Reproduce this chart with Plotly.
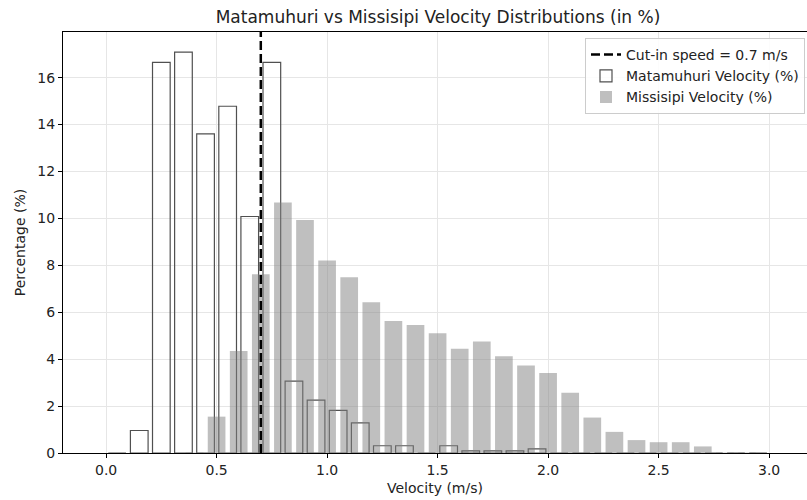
import plotly.graph_objects as go

# ---- data ----
mat_centers = [round(0.05 + 0.1 * i, 2) for i in range(30)]
mat_values = [0.0, 0.96, 16.65, 17.09, 13.60, 14.78, 10.08, 16.65, 3.06, 2.25,
              1.82, 1.28, 0.31, 0.31, 0.0, 0.31, 0.09, 0.09, 0.09, 0.18,
              0.0, 0.0, 0.0, 0.0, 0.0, 0.0, 0.0, 0.0, 0.0, 0.0]

mis_centers = [round(0.1 * i, 2) for i in range(31)]
mis_values = [0.0, 0.0, 0.0, 0.0, 0.02, 1.55, 4.35, 7.62, 10.68, 9.93,
              8.20, 7.49, 6.43, 5.63, 5.46, 5.10, 4.44, 4.75, 4.12, 3.73,
              3.41, 2.57, 1.51, 0.90, 0.55, 0.46, 0.46, 0.28, 0.02, 0.02, 0.0]

cut_in = 0.7
x_ticks = [0.0, 0.5, 1.0, 1.5, 2.0, 2.5, 3.0]
y_ticks = [0, 2, 4, 6, 8, 10, 12, 14, 16]

BAR_W = 0.08
Y_MAX = max(mat_values) * 1.05
FONT = "DejaVu Sans"

fig = go.Figure()

fig.add_trace(go.Scatter(
    x=[cut_in, cut_in], y=[0, Y_MAX], mode="lines",
    line=dict(color="black", width=2.5, dash="9px,4px"),
    name=f"Cut-in speed = {cut_in} m/s",
))

fig.add_trace(go.Bar(
    x=mat_centers, y=mat_values, width=BAR_W,
    marker=dict(color="rgba(255,255,255,0)", line=dict(color="#505050", width=1.2)),
    name="Matamuhuri Velocity (%)",
))

fig.add_trace(go.Bar(
    x=mis_centers, y=mis_values, width=BAR_W,
    marker=dict(color="rgba(128,128,128,0.5)", line=dict(width=0)),
    name="Missisipi Velocity (%)",
))

L, T, B = 63, 32, 47
W, H = 807, 500
plot_w = W - L
px_per_unit = 221.0
x0 = -0.195
x1 = x0 + plot_w / px_per_unit

fig.update_layout(
    width=W, height=H,
    margin=dict(l=L, r=0, t=T, b=B, pad=0),
    paper_bgcolor="white", plot_bgcolor="white",
    barmode="overlay",
    font=dict(family=FONT, size=14, color="#222"),
    title=dict(text="Matamuhuri vs Missisipi Velocity Distributions (in %)",
               x=438 / W, xanchor="center", xref="container",
               y=1 - 17 / H, yanchor="middle", yref="container",
               font=dict(family=FONT, size=17, color="#222")),
    showlegend=True,
    legend=dict(x=(805 - L) / plot_w, xanchor="right", y=1 - 6 / (H - T - B), yanchor="top",
                bgcolor="rgba(255,255,255,0.85)", bordercolor="#cccccc", borderwidth=1,
                font=dict(family=FONT, size=14, color="#222"),
                traceorder="normal", itemwidth=30, tracegroupgap=0),
    xaxis=dict(range=[x0, x1], tickvals=x_ticks, tickformat=".1f",
               tickfont=dict(family=FONT, size=14, color="#222"),
               showgrid=True, gridcolor="#e6e6e6", gridwidth=0.8,
               showline=True, linecolor="black", linewidth=1.1, mirror=True,
               ticks="outside", ticklen=4, tickcolor="black", zeroline=False,
               title=dict(text="Velocity (m/s)", standoff=6,
                          font=dict(family=FONT, size=14, color="#222"))),
    yaxis=dict(range=[0, Y_MAX], tickvals=y_ticks,
               tickfont=dict(family=FONT, size=14, color="#222"),
               showgrid=True, gridcolor="#e6e6e6", gridwidth=0.8,
               showline=True, linecolor="black", linewidth=1.1, mirror=False,
               ticks="outside", ticklen=4, tickcolor="black", zeroline=False,
               title=dict(text="Percentage (%)", standoff=8,
                          font=dict(family=FONT, size=14, color="#222"))),
)

fig.write_html("out.html")
